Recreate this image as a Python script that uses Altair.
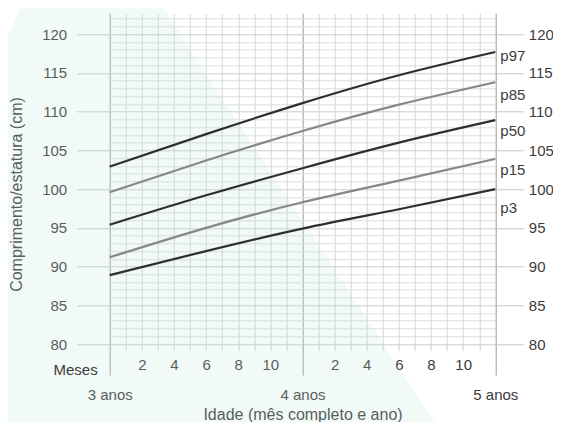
import altair as alt
import pandas as pd

# ---- data ----
months = [36, 42, 48, 54, 60]
p97 = [102.9, 107.1, 111.1, 114.7, 117.7]
p85 = [99.6, 103.7, 107.5, 110.9, 113.8]
p50 = [95.4, 99.2, 102.7, 106.0, 108.9]
p15 = [91.2, 95.0, 98.3, 101.1, 103.9]
p3 = [88.9, 92.0, 94.9, 97.4, 100.0]
series_names = ["p97", "p85", "p50", "p15", "p3"]
series_colors = ["#2e2e2e", "#878787", "#2e2e2e", "#878787", "#2e2e2e"]
label_values = [117.2, 112.2, 107.5, 102.5, 97.6]

month_grid = [m for m in range(37, 60) if m % 12 != 0]
year_ticks = [36, 48, 60]
cm_minor = [c for c in range(81, 123) if c % 5 != 0]
cm_major = list(range(80, 121, 5))

# decorative mint background band (data units)
bg_cm = [124.4, 117.9, 68.9]
bg_left = [30.7, 29.2, 29.2]
bg_right = [39.0, 41.05, 56.55]

meses_month = [36]
meses_cm = [76.0]

FONT = "Liberation Sans"
TXT = "#3c3c3c"

xscale = alt.Scale(domain=[36, 60], nice=False, zero=False)
yscale = alt.Scale(domain=[80, 122.7], nice=False, zero=False)

rows = []
for name, vals in zip(series_names, [p97, p85, p50, p15, p3]):
    for m, v in zip(months, vals):
        rows.append({"month": m, "cm": v, "series": name})
lines_df = pd.DataFrame(rows)
labels_df = pd.DataFrame({"month": [60] * 5, "cm": label_values, "series": series_names})
bg_df = pd.DataFrame({"cm": bg_cm, "m1": bg_left, "m2": bg_right})
meses_df = pd.DataFrame({"month": meses_month, "cm": meses_cm, "t": ["Meses"]})

bg = alt.Chart(bg_df).mark_area(
    orient="horizontal", fill="#bfe8d8", opacity=0.2, clip=False, interpolate="linear"
).encode(
    y=alt.Y("cm:Q", scale=yscale, sort=None,
            axis=alt.Axis(values=cm_minor, orient="left", grid=True, gridColor="#dadddd",
                          ticks=False, labels=False, domain=False, title=None)),
    x=alt.X("m1:Q", scale=xscale,
            axis=alt.Axis(values=month_grid, orient="bottom", grid=True, gridColor="#d3d6d6",
                          tickSize=6, tickColor="#c8cbcb", domain=False, title=None,
                          labelExpr="datum.value % 2 == 0 ? '' + (datum.value % 12) : ''",
                          labelOverlap=False, labelFlush=False, labelBaseline="alphabetic",
                          labelPadding=19, labelFontSize=15, labelFont=FONT, labelColor=TXT)),
    x2="m2:Q",
)

lines = alt.Chart(lines_df).mark_line(strokeWidth=2.2, interpolate="natural").encode(
    x=alt.X("month:Q", scale=xscale,
            axis=alt.Axis(values=year_ticks, orient="bottom", grid=True, gridColor="#9a9a9a",
                          tickSize=31, tickColor="#9a9a9a", domain=False,
                          labelExpr="format(datum.value / 12, 'd') + ' anos'",
                          labelOverlap=False, labelFlush=False, labelBaseline="alphabetic",
                          labelPadding=24, labelFontSize=15, labelFont=FONT, labelColor=TXT,
                          title="Idade (mês completo e ano)", titleFont=FONT, titleFontSize=16,
                          titleFontWeight="normal", titleColor=TXT, titleX=192.8, titleY=75,
                          titleAlign="center", titleBaseline="alphabetic")),
    y=alt.Y("cm:Q", scale=yscale,
            axis=alt.Axis(values=cm_major, orient="left", grid=True, gridColor="#cbcece",
                          tickSize=33, tickColor="#c4c7c7", domain=False,
                          labelPadding=10, labelFontSize=15, labelFont=FONT, labelColor=TXT,
                          labelOverlap=False, labelFlush=False,
                          title="Comprimento/estatura (cm)", titleFont=FONT, titleFontSize=16,
                          titleFontWeight="normal", titleColor=TXT, titleAngle=270,
                          titleX=-88, titleY=180.7, titleAlign="center",
                          titleBaseline="alphabetic")),
    color=alt.Color("series:N", scale=alt.Scale(domain=series_names, range=series_colors),
                    legend=None),
    detail="series:N",
)

labels = alt.Chart(labels_df).mark_text(
    align="left", baseline="middle", dx=5, fontSize=15, font=FONT, color=TXT
).encode(
    x=alt.X("month:Q", scale=xscale, axis=None),
    y=alt.Y("cm:Q", scale=yscale,
            axis=alt.Axis(values=cm_major, orient="right", grid=False, tickSize=28,
                          tickColor="#c4c7c7", domain=False, labelPadding=5,
                          labelFontSize=15, labelFont=FONT, labelColor=TXT,
                          labelOverlap=False, labelFlush=False, title=None)),
    text="series:N",
)

meses = alt.Chart(meses_df).mark_text(
    align="right", baseline="alphabetic", dx=-12, fontSize=15, font=FONT, color=TXT
).encode(
    x=alt.X("month:Q", scale=xscale, axis=None),
    y=alt.Y("cm:Q", scale=yscale, axis=None),
    text="t:N",
)

chart = alt.layer(bg, lines, labels, meses).resolve_axis(
    x="independent", y="independent"
).properties(
    width=385.6,
    height=330.7,
    padding={"left": 101.7, "top": 5.3, "right": 57.7, "bottom": 78},
    autosize=alt.AutoSizeParams(type="none"),
).configure_view(stroke=None)

chart.save("out.html", embed_options={"renderer": "svg", "actions": False})
